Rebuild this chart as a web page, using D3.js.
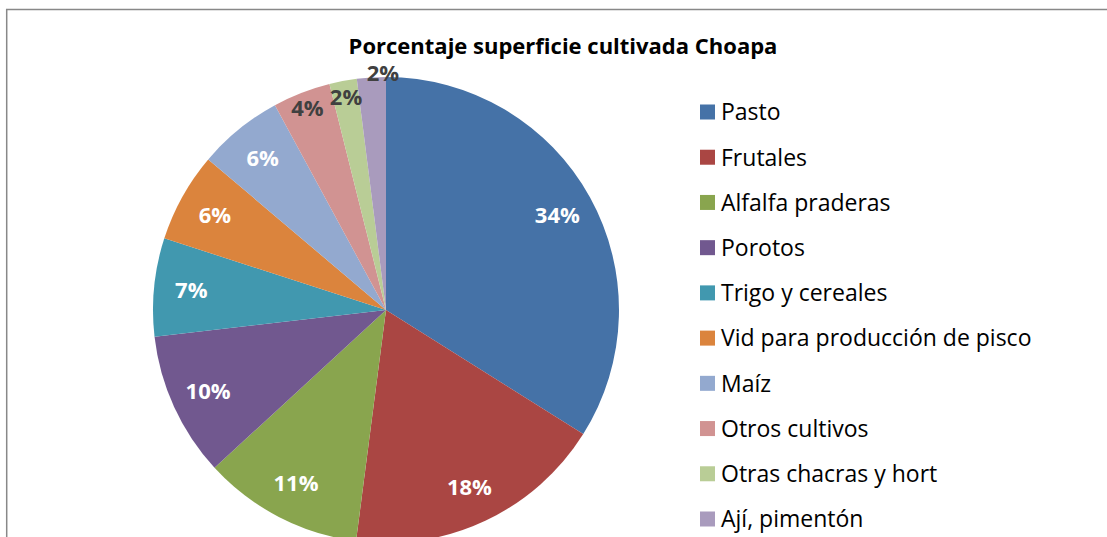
<!DOCTYPE html>
<html lang="es">
<head>
    <meta charset="UTF-8">
    <title>Porcentaje superficie cultivada Choapa</title>
    <script src="https://d3js.org/d3.v7.min.js" charset="utf-8"></script>
    <style>
        body { margin: 0; background: #fff; }
        text { font-family: "Open Sans", "Noto Sans", sans-serif; }
    </style>
</head>
<body>
<script>
    // data
    var categories = ["Pasto", "Frutales", "Alfalfa praderas", "Porotos", "Trigo y cereales",
        "Vid para producción de pisco", "Maíz", "Otros cultivos", "Otras chacras y hort", "Ají, pimentón"];
    var values = [33.9, 18.1, 11.1, 10.0, 6.8, 6.2, 5.9, 4.0, 1.9, 2.0];
    var labels = ["34%", "18%", "11%", "10%", "7%", "6%", "6%", "4%", "2%", "2%"];
    var colors = ["#4572a7", "#aa4643", "#89a54e", "#71588f", "#4198af",
        "#db843d", "#93a9cf", "#d19392", "#b9cd96", "#a99bbd"];

    var width = 1107, height = 537;
    var cx = 386, cy = 310, radius = 233;

    var svg = d3.select("body").append("svg")
        .attr("width", width)
        .attr("height", height);

    // chart frame (only left and top visible)
    svg.append("path")
        .attr("d", "M6.7," + height + "V9.5H" + width)
        .attr("fill", "none")
        .attr("stroke", "#888")
        .attr("stroke-width", 1.5);

    // title
    svg.append("text")
        .attr("x", 563)
        .attr("y", 54)
        .attr("text-anchor", "middle")
        .style("font-size", "22px")
        .style("font-weight", "bold")
        .attr("fill", "#000")
        .text("Porcentaje superficie cultivada Choapa");

    var pie = d3.pie().sort(null).value(function(d) { return d; });
    var arcs = pie(values);
    var arc = d3.arc().innerRadius(0).outerRadius(radius);

    var g = svg.append("g").attr("transform", "translate(" + cx + "," + cy + ")");

    g.selectAll("path.slice").data(arcs).enter()
        .append("path")
        .attr("class", "slice")
        .attr("d", arc)
        .attr("fill", function(d, i) { return colors[i]; });

    // labels: inside for big slices, pushed out for the thin ones
    var labelR = function(i) {
        if (i === 9) return radius * 1.015;
        if (i === 8 || i === 7) return radius * 0.93;
        return radius * 0.84;
    };
    var labelShift = function(i) {
        return i === 9 ? 0.05 : 0;
    };

    g.selectAll("text.lbl").data(arcs).enter()
        .append("text")
        .attr("class", "lbl")
        .attr("x", function(d, i) {
            var a = (d.startAngle + d.endAngle) / 2 + labelShift(i);
            return Math.sin(a) * labelR(i);
        })
        .attr("y", function(d, i) {
            var a = (d.startAngle + d.endAngle) / 2 + labelShift(i);
            return -Math.cos(a) * labelR(i);
        })
        .attr("dy", "0.35em")
        .attr("text-anchor", "middle")
        .style("font-size", "22px")
        .style("font-weight", "bold")
        .attr("fill", function(d, i) { return i >= 7 ? "#404040" : "#fff"; })
        .text(function(d, i) { return labels[i]; });

    // legend
    var legendY = d3.scalePoint().domain(categories).range([112, 519]);
    var legend = svg.append("g");
    var items = legend.selectAll("g").data(categories).enter()
        .append("g")
        .attr("transform", function(d) { return "translate(700," + legendY(d) + ")"; });

    items.append("rect")
        .attr("x", 0)
        .attr("y", -7.5)
        .attr("width", 15)
        .attr("height", 15)
        .attr("fill", function(d, i) { return colors[i]; });

    items.append("text")
        .attr("x", 21)
        .attr("dy", "0.36em")
        .style("font-size", "23px")
        .attr("fill", "#000")
        .text(function(d) { return d; });
</script>
</body>
</html>
